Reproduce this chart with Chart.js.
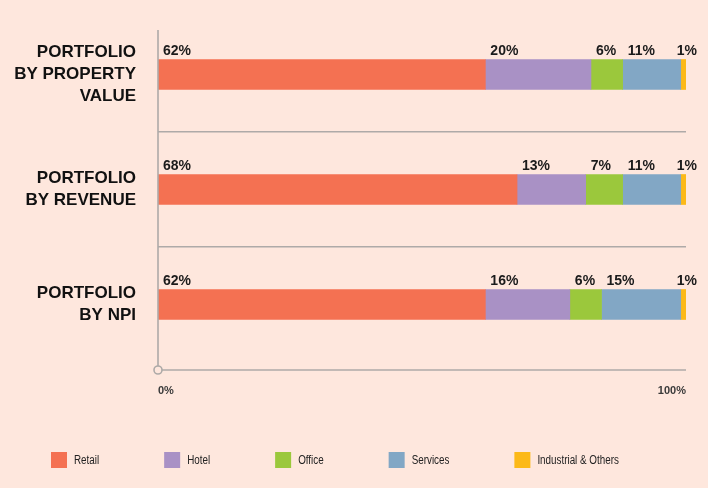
<!DOCTYPE html>
<html>
<head>
<meta charset="utf-8">
<script src="https://cdn.jsdelivr.net/npm/chart.js@4.4.0/dist/chart.umd.min.js"></script>
<style>
  html, body { margin: 0; padding: 0; background: #fee7dd; }
  #wrap { width: 708px; height: 488px; position: relative; }
</style>
</head>
<body>
<div id="wrap"><canvas id="myChart"></canvas></div>
<script>
// categories (multi-line labels)
const categories = [
  ['PORTFOLIO', 'BY PROPERTY', 'VALUE'],
  ['PORTFOLIO', 'BY REVENUE'],
  ['PORTFOLIO', 'BY NPI']
];
const segments = ['Retail', 'Hotel', 'Office', 'Services', 'Industrial & Others'];
const segmentColors = ['#f47152', '#a991c5', '#9bc83c', '#82a7c5', '#fcb918'];

const retail = [62, 68, 62];
const hotel = [20, 13, 16];
const office = [6, 7, 6];
const services = [11, 11, 15];
const industrial = [1, 1, 1];
const seriesValues = [retail, hotel, office, services, industrial];

const xTicks = [0, 100];

const bg = '#fee7dd';
const lineGrey = '#aeaaa8';

// percent labels above each segment
const segLabels = {
  id: 'segLabels',
  afterDatasetsDraw(chart) {
    const ctx = chart.ctx;
    const area = chart.chartArea;
    ctx.save();
    ctx.font = 'bold 14px "Liberation Sans", Arial, sans-serif';
    ctx.fillStyle = '#1b1b1b';
    ctx.textBaseline = 'bottom';
    ctx.textAlign = 'left';
    chart.data.datasets.forEach((ds, di) => {
      const meta = chart.getDatasetMeta(di);
      meta.data.forEach((el, i) => {
        const text = ds.data[i] + '%';
        const w = ctx.measureText(text).width;
        const start = Math.min(el.base, el.x);
        const x = Math.min(start + 5, area.right + 11 - w);
        const y = el.y - el.height / 2 - 1;
        ctx.fillText(text, x, y);
      });
    });
    ctx.restore();
  }
};

// axis lines, origin circle and legend
const frame = {
  id: 'frame',
  afterDraw(chart) {
    const ctx = chart.ctx;
    const area = chart.chartArea;
    const axisY = area.bottom + 8;
    ctx.save();
    ctx.strokeStyle = lineGrey;
    ctx.lineWidth = 1.6;
    ctx.beginPath();
    ctx.moveTo(area.left, 30);
    ctx.lineTo(area.left, axisY);
    ctx.moveTo(area.left, axisY);
    ctx.lineTo(area.right, axisY);
    ctx.stroke();
    ctx.beginPath();
    ctx.arc(area.left, axisY, 4, 0, Math.PI * 2);
    ctx.fillStyle = bg;
    ctx.fill();
    ctx.stroke();

    // legend (condensed look: squeeze the text horizontally)
    const squeeze = 0.82;
    ctx.font = '12px "Liberation Sans", Arial, sans-serif';
    ctx.textBaseline = 'middle';
    ctx.textAlign = 'left';
    let x = 51;
    chart.data.datasets.forEach((ds) => {
      ctx.fillStyle = ds.backgroundColor;
      ctx.fillRect(x, 452, 16, 16);
      ctx.fillStyle = '#222';
      ctx.save();
      ctx.translate(x + 23, 461);
      ctx.scale(squeeze, 1);
      ctx.fillText(ds.label, 0, 0);
      ctx.restore();
      x += 23 + ctx.measureText(ds.label).width * squeeze + 65;
    });
    ctx.restore();
  }
};

const datasets = segments.map((name, i) => ({
  label: name,
  data: seriesValues[i],
  backgroundColor: segmentColors[i],
  borderWidth: 0,
  barThickness: 30
}));

const ctx = document.getElementById('myChart').getContext('2d');
const myChart = new Chart(ctx, {
  type: 'bar',
  data: {
    labels: categories,
    datasets: datasets
  },
  options: {
    indexAxis: 'y',
    responsive: true,
    maintainAspectRatio: false,
    animation: false,
    layout: {
      padding: { top: 17, right: 22, bottom: 86, left: 0 }
    },
    plugins: {
      legend: { display: false },
      tooltip: { enabled: false }
    },
    scales: {
      x: {
        stacked: true,
        min: xTicks[0],
        max: xTicks[xTicks.length - 1],
        grid: { display: false, drawTicks: false },
        border: { display: false },
        afterBuildTicks: (scale) => {
          scale.ticks = xTicks.map(v => ({ value: v }));
        },
        afterFit: (scale) => {
          scale.height = 40;
          scale.paddingLeft = 0;
          scale.paddingRight = 0;
        },
        ticks: {
          align: 'inner',
          padding: 22,
          color: '#3a3a3a',
          font: { family: '"Liberation Sans", Arial, sans-serif', size: 11, weight: 'bold' },
          callback: (v) => v + '%'
        }
      },
      y: {
        stacked: true,
        afterFit: (scale) => {
          scale.width = 158;
          scale.paddingTop = 0;
          scale.paddingBottom = 0;
        },
        border: { display: false },
        grid: {
          drawTicks: false,
          lineWidth: 1.6,
          color: (c) => (c.index === 1 || c.index === 2) ? lineGrey : 'rgba(0,0,0,0)'
        },
        ticks: {
          padding: 22,
          color: '#111',
          font: { family: '"Liberation Sans", Arial, sans-serif', size: 17, weight: 'bold', lineHeight: 1.3 }
        }
      }
    }
  },
  plugins: [segLabels, frame]
});
</script>
</body>
</html>
